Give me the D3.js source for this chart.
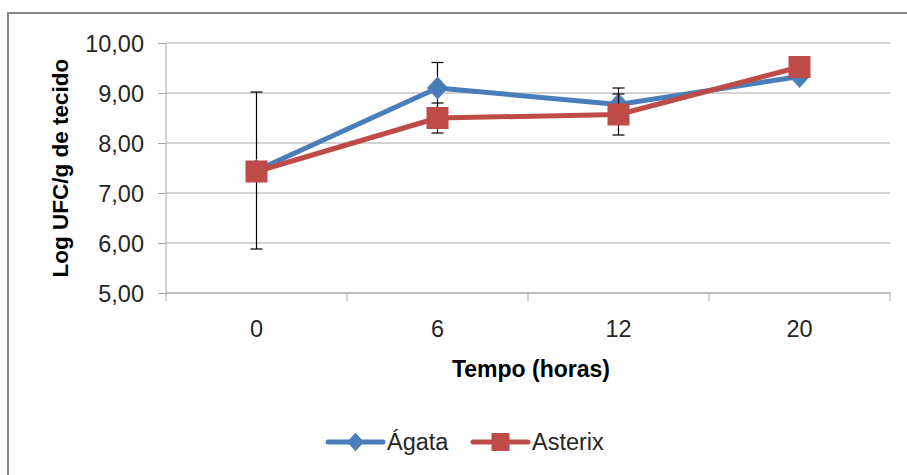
<!DOCTYPE html>
<html lang="pt">
<head>
<meta charset="UTF-8">
<title>Log UFC/g de tecido</title>
<script src="https://d3js.org/d3.v7.min.js"></script>
<style>
  body { margin: 0; background: #fff; }
  svg text { font-family: "Liberation Sans", Arial, sans-serif; fill: #262626; }
  .grid line { stroke: #a6a6a6; stroke-width: 1px; }
  .axis path, .axis line { stroke: #a6a6a6; stroke-width: 1px; }
  .axis text { font-size: 23.5px; }
  .title { font-weight: bold; font-size: 23px; fill: #000; }
  .legend text { font-size: 23.5px; }
</style>
</head>
<body>
<script>
// data
const times = ["0", "6", "12", "20"]
const agata = [7.45, 9.10, 8.77, 9.33]
const agataErr = [1.57, 0.51, 0.33, 0]
const asterix = [7.43, 8.50, 8.57, 9.52]
const asterixErr = [0, 0.30, 0.41, 0]
const yTicks = [5, 6, 7, 8, 9, 10]

const series = [
  {name: "Ágata", values: agata, err: agataErr, color: "#4a7ebb", marker: "diamond"},
  {name: "Asterix", values: asterix, err: asterixErr, color: "#be4b48", marker: "square"}
]

const W = 907, H = 475
const MARGIN = {TOP: 43, LEFT: 166, RIGHT: 17, BOTTOM: 182}
const WIDTH = W - MARGIN.LEFT - MARGIN.RIGHT
const HEIGHT = H - MARGIN.TOP - MARGIN.BOTTOM

const svg = d3.select("body").append("svg")
    .attr("width", W)
    .attr("height", H)

// chart border
svg.append("rect")
    .attr("x", 8).attr("y", 13)
    .attr("width", W + 20).attr("height", H + 20)
    .attr("fill", "#fff")
    .attr("stroke", "#868686")
    .attr("stroke-width", 2)

const g = svg.append("g")
    .attr("transform", `translate(${MARGIN.LEFT}, ${MARGIN.TOP})`)

const x = d3.scaleBand().domain(times).range([0, WIDTH])
const y = d3.scaleLinear().domain([5, 10]).range([HEIGHT, 0])
const cx = d => x(d) + x.bandwidth() / 2

// gridlines
g.append("g").attr("class", "grid")
    .selectAll("line")
    .data(yTicks)
    .enter().append("line")
    .attr("x1", 0).attr("x2", WIDTH)
    .attr("y1", d => y(d)).attr("y2", d => y(d))

// y axis
const yAxis = g.append("g").attr("class", "axis")
    .call(d3.axisLeft(y).tickValues(yTicks).tickSize(8).tickPadding(14)
        .tickFormat(d => d3.format(".2f")(d).replace(".", ",")))
yAxis.select(".domain").attr("d", `M0,${HEIGHT}V0`)
yAxis.selectAll("text").attr("dy", "0.36em")

// x axis, ticks between categories
const xAxis = g.append("g").attr("class", "axis")
    .attr("transform", `translate(0, ${HEIGHT})`)
    .call(d3.axisBottom(x).tickSize(0).tickPadding(27))
xAxis.select(".domain").attr("d", `M0,0H${WIDTH}`)
xAxis.selectAll(".tick line").remove()
xAxis.selectAll(".sep")
    .data(d3.range(times.length + 1))
    .enter().append("line")
    .attr("x1", i => i * x.bandwidth()).attr("x2", i => i * x.bandwidth())
    .attr("y1", 0).attr("y2", 8)
    .attr("stroke", "#a6a6a6")

// axis titles
svg.append("text")
    .attr("class", "title")
    .attr("text-anchor", "middle")
    .attr("x", 531).attr("y", 377)
    .text("Tempo (horas)")

svg.append("text")
    .attr("class", "title")
    .attr("text-anchor", "middle")
    .attr("transform", "translate(68, 168) rotate(-90)")
    .style("font-size", "22.5px")
    .text("Log UFC/g de tecido")

const line = d3.line()
    .x((d, i) => cx(times[i]))
    .y(d => y(d))

function drawMarker(sel, s, px, py, size) {
  if (s.marker === "diamond") {
    sel.append("path")
        .attr("d", `M${px},${py - size * 0.55}L${px + size * 0.5},${py}L${px},${py + size * 0.55}L${px - size * 0.5},${py}Z`)
        .attr("fill", s.color)
  } else {
    sel.append("rect")
        .attr("x", px - size / 2).attr("y", py - size / 2)
        .attr("width", size).attr("height", size)
        .attr("fill", s.color)
  }
}

series.forEach(s => {
  const sg = g.append("g")
  // error bars
  s.values.forEach((v, i) => {
    if (!s.err[i]) return
    const px = cx(times[i])
    const y1 = y(v + s.err[i]), y2 = y(v - s.err[i])
    sg.append("line").attr("x1", px).attr("x2", px).attr("y1", y1).attr("y2", y2)
        .attr("stroke", "#000").attr("stroke-width", 1.2)
    ;[y1, y2].forEach(yy => sg.append("line")
        .attr("x1", px - 6).attr("x2", px + 6).attr("y1", yy).attr("y2", yy)
        .attr("stroke", "#000").attr("stroke-width", 1.2))
  })
  sg.append("path")
      .datum(s.values)
      .attr("d", line)
      .attr("fill", "none")
      .attr("stroke", s.color)
      .attr("stroke-width", 5)
      .attr("stroke-linejoin", "round")
  s.values.forEach((v, i) => drawMarker(sg, s, cx(times[i]), y(v), s.marker === "diamond" ? 21 : 22))
})

// legend
const legend = svg.append("g").attr("class", "legend")
const legendX = [328, 473]
series.forEach((s, i) => {
  const row = legend.append("g").attr("transform", `translate(${legendX[i]}, 442)`)
  row.append("line")
      .attr("x1", 0).attr("x2", 55)
      .attr("stroke", s.color).attr("stroke-width", 5)
      .attr("stroke-linecap", "round")
  drawMarker(row, s, 27.5, 0, s.marker === "diamond" ? 17 : 18)
  row.append("text")
      .attr("x", 59).attr("y", 8)
      .text(s.name)
})
</script>
</body>
</html>
